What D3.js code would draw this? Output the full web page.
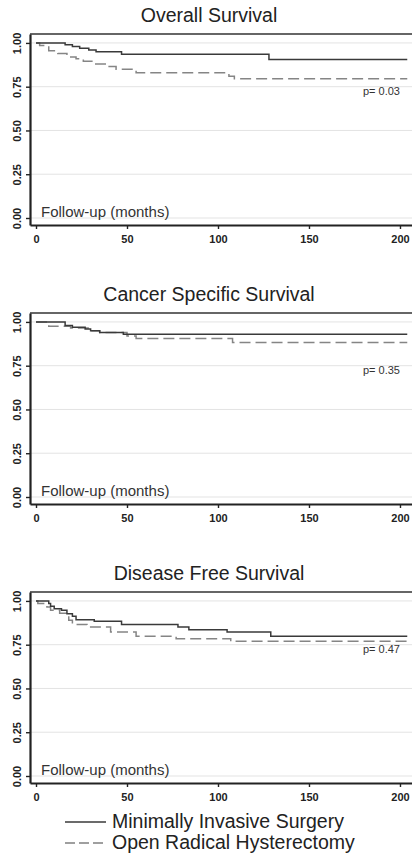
<!DOCTYPE html>
<html>
<head>
<meta charset="utf-8">
<script src="https://cdn.jsdelivr.net/npm/d3@7"></script>
<style>
  body { margin: 0; background: #fff; }
  text { font-family: "Liberation Sans", Arial, sans-serif; }
</style>
</head>
<body>
<div id="chart"></div>
<script>
// Data
//================================
var panelTitles = ["Overall Survival", "Cancer Specific Survival", "Disease Free Survival"];
var pValues = ["p= 0.03", "p= 0.35", "p= 0.47"];
var seriesNames = ["Minimally Invasive Surgery", "Open Radical Hysterectomy"];
var xTicks = [0, 50, 100, 150, 200];
var yTicks = [0, 0.25, 0.5, 0.75, 1];

// Overall survival
var osMisTime = [0, 16, 20, 24, 29, 33, 47, 128, 204];
var osMisSurv = [1, 0.99, 0.98, 0.97, 0.96, 0.95, 0.935, 0.905, 0.905];
var osOrhTime = [0, 2, 7, 12, 17, 22, 26, 32, 39, 44, 55, 106, 109, 204];
var osOrhSurv = [1, 0.985, 0.955, 0.94, 0.92, 0.91, 0.895, 0.88, 0.865, 0.85, 0.83, 0.81, 0.795, 0.795];

// Cancer specific survival
var csMisTime = [0, 16, 20, 27, 30, 35, 48, 204];
var csMisSurv = [1, 0.98, 0.97, 0.96, 0.95, 0.94, 0.93, 0.93];
var csOrhTime = [0, 7, 19, 30, 35, 50, 55, 108, 204];
var csOrhSurv = [1, 0.975, 0.965, 0.95, 0.94, 0.92, 0.905, 0.883, 0.883];

// Disease free survival
var dfMisTime = [0, 7, 8, 10, 14, 17, 20, 22, 32, 47, 78, 84, 105, 129, 204];
var dfMisSurv = [1, 0.985, 0.97, 0.956, 0.947, 0.927, 0.912, 0.893, 0.884, 0.865, 0.851, 0.836, 0.823, 0.798, 0.798];
var dfOrhTime = [0, 1, 6, 8, 13, 18, 20, 28, 41, 55, 77, 107, 204];
var dfOrhSurv = [1, 0.985, 0.966, 0.947, 0.93, 0.889, 0.866, 0.851, 0.823, 0.798, 0.784, 0.769, 0.769];

var panels = [
  { mis: [osMisTime, osMisSurv], orh: [osOrhTime, osOrhSurv] },
  { mis: [csMisTime, csMisSurv], orh: [csOrhTime, csOrhSurv] },
  { mis: [dfMisTime, dfMisSurv], orh: [dfOrhTime, dfOrhSurv] }
];

// Set up our chart area
//================================
var svgWidth = 412;
var svgHeight = 854;

var svg = d3.select("#chart")
  .append("svg")
  .attr("width", svgWidth)
  .attr("height", svgHeight);

var plotLeft = 30;
var plotRight = 420;
var panelStep = 279;

var xScale = d3.scaleLinear()
  .domain([-3.3, 211])
  .range([plotLeft, plotRight]);

function toPoints(pair) {
  return pair[0].map((t, i) => [t, pair[1][i]]);
}

panels.forEach(function(p, i) {
  var top = 34 + i * panelStep;
  var bottom = 225 + i * panelStep;

  var yScale = d3.scaleLinear()
    .domain([-0.04, 1.051])
    .range([bottom, top]);

  var g = svg.append("g");

  // title
  g.append("text")
    .attr("x", 209)
    .attr("y", yScale(1) - 21)
    .attr("text-anchor", "middle")
    .attr("font-size", "19.5px")
    .attr("fill", "#222")
    .text(panelTitles[i]);

  // gridlines
  g.selectAll(".grid")
    .data(yTicks)
    .enter()
    .append("line")
    .attr("x1", plotLeft)
    .attr("x2", plotRight)
    .attr("y1", d => yScale(d))
    .attr("y2", d => yScale(d))
    .attr("stroke", "#e3e3e3")
    .attr("stroke-width", 1);

  // frame top
  g.append("line")
    .attr("x1", plotLeft).attr("x2", plotRight)
    .attr("y1", top).attr("y2", top)
    .attr("stroke", "#333").attr("stroke-width", 1.6);

  // axes
  var bottomAxis = d3.axisBottom(xScale)
    .tickValues(xTicks)
    .tickSize(4)
    .tickPadding(6)
    .tickSizeOuter(0);
  var leftAxis = d3.axisLeft(yScale)
    .tickValues(yTicks)
    .tickSize(4)
    .tickSizeOuter(0)
    .tickFormat(d3.format(".2f"));

  var xAxis = g.append("g")
    .attr("transform", `translate(0, ${bottom})`)
    .call(bottomAxis);
  xAxis.select(".domain").attr("stroke", "#222").attr("stroke-width", 2.2);
  xAxis.selectAll(".tick line").attr("stroke", "#222").attr("stroke-width", 1.4);
  xAxis.selectAll(".tick text")
    .attr("font-size", "11px")
    .attr("font-weight", "bold")
    .attr("fill", "#222");

  var yAxis = g.append("g")
    .attr("transform", `translate(${plotLeft}, 0)`)
    .call(leftAxis);
  yAxis.select(".domain").attr("stroke", "#222").attr("stroke-width", 2.2);
  yAxis.selectAll(".tick line").attr("stroke", "#222").attr("stroke-width", 1.4);
  yAxis.selectAll(".tick text")
    .attr("x", 0)
    .attr("dy", 0)
    .attr("text-anchor", "middle")
    .attr("dominant-baseline", "central")
    .attr("transform", "translate(-13,0) rotate(-90)")
    .attr("font-size", "11px")
    .attr("font-weight", "bold")
    .attr("fill", "#222");

  // survival curves
  var line = d3.line()
    .curve(d3.curveStepAfter)
    .x(d => xScale(d[0]))
    .y(d => yScale(d[1]));

  g.append("path")
    .datum(toPoints(p.orh))
    .attr("d", line)
    .attr("fill", "none")
    .attr("stroke", "#858585")
    .attr("stroke-width", 1.5)
    .attr("stroke-dasharray", "11,5");

  g.append("path")
    .datum(toPoints(p.mis))
    .attr("d", line)
    .attr("fill", "none")
    .attr("stroke", "#3a3a3a")
    .attr("stroke-width", 1.5);

  // labels inside plot
  g.append("text")
    .attr("x", 41)
    .attr("y", yScale(0) - 1)
    .attr("font-size", "15px")
    .attr("fill", "#333")
    .text("Follow-up (months)");

  g.append("text")
    .attr("x", xScale(200))
    .attr("y", yScale(0.705))
    .attr("text-anchor", "end")
    .attr("font-size", "11px")
    .attr("fill", "#333")
    .text(pValues[i]);
});

// legend
var legend = svg.append("g");
var legendY = [822, 843];
seriesNames.forEach(function(name, i) {
  legend.append("line")
    .attr("x1", 65).attr("x2", 106)
    .attr("y1", legendY[i]).attr("y2", legendY[i])
    .attr("stroke", i === 0 ? "#3a3a3a" : "#808080")
    .attr("stroke-width", 1.3)
    .attr("stroke-dasharray", i === 0 ? null : "10,4");
  legend.append("text")
    .attr("x", 112)
    .attr("y", legendY[i] + 6)
    .attr("font-size", "19.5px")
    .attr("fill", "#222")
    .text(name);
});
</script>
</body>
</html>
